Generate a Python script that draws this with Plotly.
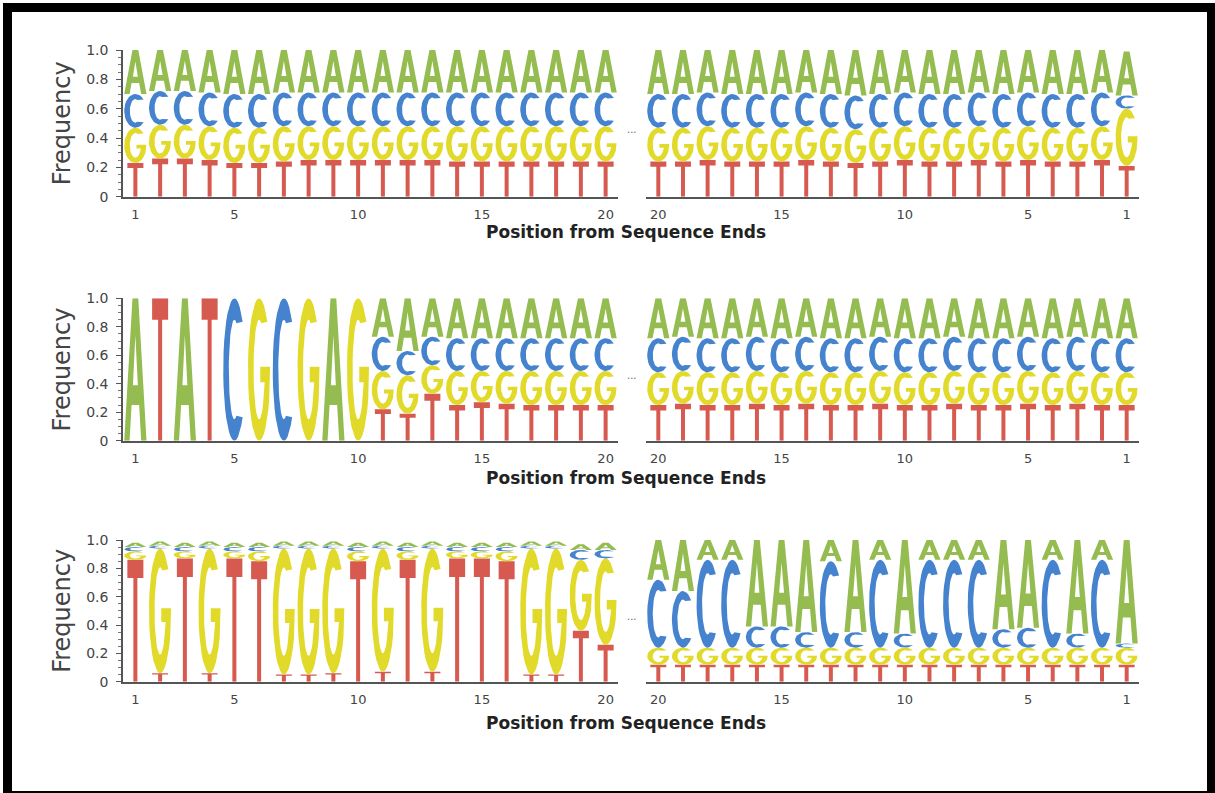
import numpy as np
import plotly.graph_objects as go

# ---------------------------------------------------------------- data
positions = list(range(1, 21))
x_tickvals = [1, 5, 10, 15, 20]
y_tickvals = [0, 0.2, 0.4, 0.6, 0.8, 1.0]
y_ticktext = ["0", "0.2", "0.4", "0.6", "0.8", "1.0"]
letters = ["T", "G", "C", "A"]          # stacking order, bottom to top

# Row 1 - left end (positions 1..20)
r1_left_T = [0.23, 0.26, 0.26, 0.25, 0.23, 0.23, 0.24, 0.25, 0.25, 0.25, 0.25, 0.25, 0.25, 0.24, 0.24, 0.24, 0.24, 0.24, 0.24, 0.24]
r1_left_G = [0.24, 0.23, 0.23, 0.23, 0.24, 0.24, 0.24, 0.23, 0.23, 0.23, 0.23, 0.23, 0.23, 0.24, 0.24, 0.24, 0.24, 0.24, 0.24, 0.24]
r1_left_C = [0.23, 0.23, 0.23, 0.23, 0.23, 0.23, 0.23, 0.23, 0.23, 0.23, 0.23, 0.23, 0.23, 0.23, 0.23, 0.23, 0.23, 0.23, 0.23, 0.23]
r1_left_A = [0.30, 0.28, 0.28, 0.29, 0.30, 0.30, 0.29, 0.29, 0.29, 0.29, 0.29, 0.29, 0.29, 0.29, 0.29, 0.29, 0.29, 0.29, 0.29, 0.29]
# Row 1 - right end (positions 1..20, position 1 is the last base)
r1_right_T = [0.21, 0.25, 0.24, 0.24, 0.25, 0.24, 0.25, 0.24, 0.24, 0.25, 0.24, 0.23, 0.24, 0.25, 0.24, 0.24, 0.24, 0.25, 0.24, 0.24]
r1_right_G = [0.39, 0.23, 0.23, 0.23, 0.23, 0.23, 0.23, 0.23, 0.23, 0.23, 0.23, 0.23, 0.23, 0.23, 0.23, 0.23, 0.23, 0.23, 0.23, 0.23]
r1_right_C = [0.09, 0.23, 0.23, 0.23, 0.23, 0.23, 0.23, 0.23, 0.23, 0.23, 0.23, 0.23, 0.23, 0.23, 0.23, 0.23, 0.23, 0.23, 0.23, 0.23]
r1_right_A = [0.30, 0.29, 0.30, 0.30, 0.29, 0.30, 0.29, 0.30, 0.30, 0.29, 0.30, 0.31, 0.30, 0.29, 0.30, 0.30, 0.30, 0.29, 0.30, 0.30]

# Row 2 - left end (barcode ATATCGCGAG followed by random sequence)
r2_left_T = [0, 1, 0, 1, 0, 0, 0, 0, 0, 0, 0.22, 0.19, 0.33, 0.25, 0.27, 0.26, 0.25, 0.25, 0.25, 0.25]
r2_left_G = [0, 0, 0, 0, 0, 1, 0, 1, 0, 1, 0.27, 0.27, 0.20, 0.24, 0.22, 0.23, 0.24, 0.24, 0.24, 0.24]
r2_left_C = [0, 0, 0, 0, 1, 0, 1, 0, 0, 0, 0.24, 0.17, 0.20, 0.23, 0.23, 0.23, 0.23, 0.23, 0.23, 0.23]
r2_left_A = [1, 0, 1, 0, 0, 0, 0, 0, 1, 0, 0.27, 0.37, 0.27, 0.28, 0.28, 0.28, 0.28, 0.28, 0.28, 0.28]
# Row 2 - right end
r2_right_T = [0.25, 0.25, 0.26, 0.25, 0.26, 0.25, 0.25, 0.26, 0.25, 0.25, 0.26, 0.25, 0.25, 0.26, 0.25, 0.26, 0.25, 0.25, 0.26, 0.25]
r2_right_G = [0.23, 0.23, 0.23, 0.23, 0.23, 0.23, 0.23, 0.23, 0.23, 0.23, 0.23, 0.23, 0.23, 0.23, 0.23, 0.23, 0.23, 0.23, 0.23, 0.23]
r2_right_C = [0.24, 0.24, 0.24, 0.24, 0.24, 0.24, 0.24, 0.24, 0.24, 0.24, 0.24, 0.24, 0.24, 0.24, 0.24, 0.24, 0.24, 0.24, 0.24, 0.24]
r2_right_A = [0.28, 0.28, 0.27, 0.28, 0.27, 0.28, 0.28, 0.27, 0.28, 0.28, 0.27, 0.28, 0.28, 0.27, 0.28, 0.27, 0.28, 0.28, 0.27, 0.28]

# Row 3 - left end (TG-rich telomeric repeat)
r3_left_T = [0.86, 0.06, 0.87, 0.06, 0.87, 0.85, 0.05, 0.05, 0.06, 0.85, 0.07, 0.86, 0.07, 0.87, 0.87, 0.85, 0.05, 0.05, 0.36, 0.26]
r3_left_G = [0.06, 0.88, 0.05, 0.88, 0.05, 0.07, 0.89, 0.89, 0.88, 0.07, 0.87, 0.06, 0.87, 0.05, 0.05, 0.07, 0.89, 0.89, 0.50, 0.61]
r3_left_C = [0.03, 0.02, 0.03, 0.02, 0.03, 0.03, 0.02, 0.02, 0.02, 0.03, 0.02, 0.03, 0.02, 0.03, 0.03, 0.03, 0.02, 0.02, 0.07, 0.06]
r3_left_A = [0.03, 0.03, 0.03, 0.03, 0.03, 0.03, 0.03, 0.03, 0.03, 0.03, 0.03, 0.03, 0.03, 0.03, 0.03, 0.03, 0.03, 0.03, 0.04, 0.05]
# Row 3 - right end (CA-rich complementary repeat), positions 1..20
r3_right_T = [0.12, 0.12, 0.12, 0.12, 0.12, 0.12, 0.12, 0.12, 0.12, 0.12, 0.12, 0.12, 0.12, 0.12, 0.12, 0.12, 0.12, 0.12, 0.12, 0.12]
r3_right_G = [0.12, 0.12, 0.12, 0.12, 0.12, 0.12, 0.12, 0.12, 0.12, 0.12, 0.12, 0.12, 0.12, 0.12, 0.12, 0.12, 0.12, 0.12, 0.12, 0.12]
r3_right_C = [0.03, 0.62, 0.10, 0.62, 0.14, 0.13, 0.62, 0.62, 0.62, 0.10, 0.62, 0.11, 0.61, 0.11, 0.15, 0.15, 0.62, 0.62, 0.40, 0.48]
r3_right_A = [0.73, 0.14, 0.66, 0.14, 0.62, 0.63, 0.14, 0.14, 0.14, 0.66, 0.14, 0.65, 0.15, 0.65, 0.61, 0.61, 0.14, 0.14, 0.36, 0.28]

colors = {"A": "#95bc50", "C": "#4683cf", "G": "#e2da2a", "T": "#d65a4f"}

# ---------------------------------------------------------------- glyph outlines (unit box)
def arc(cx, cy, rx, ry, a0, a1, n=30):
    t = np.radians(np.linspace(a0, a1, n))
    return np.column_stack([cx + rx * np.cos(t), cy + ry * np.sin(t)])


def build_glyphs():
    g = {}
    outer_a = np.array([(0.0, 0.0), (0.37, 1.0), (0.63, 1.0), (1.0, 0.0), (0.76, 0.0),
                        (0.67, 0.25), (0.33, 0.25), (0.24, 0.0)])
    inner_a = np.array([(0.39, 0.39), (0.61, 0.39), (0.5, 0.74)])
    g["A"] = [outer_a, inner_a]

    c_ring = np.vstack([arc(0.5, 0.5, 0.5, 0.5, 42, 318), arc(0.5, 0.5, 0.25, 0.35, 292, 68)])
    g["C"] = [c_ring]

    g_ring = np.vstack([
        arc(0.5, 0.5, 0.5, 0.5, 42, 335),
        np.array([(0.99, 0.52), (0.55, 0.52), (0.55, 0.41), (0.75, 0.41)]),
        arc(0.5, 0.5, 0.25, 0.35, 330, 68),
    ])
    g["G"] = [g_ring]

    t_poly = np.array([(0.41, 0.0), (0.59, 0.0), (0.59, 0.85), (0.86, 0.85), (0.86, 1.0),
                       (0.14, 1.0), (0.14, 0.85), (0.41, 0.85)])
    g["T"] = [t_poly]
    return g


GLYPHS = build_glyphs()
LETTER_W = 0.9

# ---------------------------------------------------------------- figure layout
# positions below are laid out on a 1215 x 793 grid and turned into paper fractions
W, H = 1215, 793
EDGE = 8                       # default page margin that the graph div is pulled over
DIV_W, DIV_H = W + 2 * EDGE, H + 2 * EDGE


def px(x):
    return (x + EDGE) / DIV_W


def py(y):
    return 1 - y / H


col_px = {"left": (123, 618), "right": (646, 1139)}
row_px = [(50, 196.7), (298.3, 440.7), (540, 681.7)]   # (value 1.0, value 0)

panels = [
    (0, "left", r1_left_T, r1_left_G, r1_left_C, r1_left_A),
    (0, "right", r1_right_T, r1_right_G, r1_right_C, r1_right_A),
    (1, "left", r2_left_T, r2_left_G, r2_left_C, r2_left_A),
    (1, "right", r2_right_T, r2_right_G, r2_right_C, r2_right_A),
    (2, "left", r3_left_T, r3_left_G, r3_left_C, r3_left_A),
    (2, "right", r3_right_T, r3_right_G, r3_right_C, r3_right_A),
]

fig = go.Figure()
# figure size comes from the container div (see write_html below)
layout = dict(
    margin=dict(l=0, r=0, t=0, b=0, pad=0),
    paper_bgcolor="white", plot_bgcolor="white",
    showlegend=False,
    font=dict(family="DejaVu Sans", color="#444"),
)

for k, (row, side, T, G, C, A) in enumerate(panels):
    n = k + 1
    xa, ya = ("x", "y") if n == 1 else (f"x{n}", f"y{n}")
    freqs = {"T": T, "G": G, "C": C, "A": A}
    # the right-hand axis runs backwards, so glyphs are mirrored in data space
    flip = -1 if side == "right" else 1

    xs = {L: [] for L in letters}
    ys = {L: [] for L in letters}
    for i, p in enumerate(positions):
        base = 0.0
        for L in letters:
            h = freqs[L][i]
            if h > 0:
                for ring in GLYPHS[L]:
                    closed = np.vstack([ring, ring[:1]])
                    xs[L] += list(p + flip * LETTER_W * (closed[:, 0] - 0.5)) + [None]
                    ys[L] += list(base + h * closed[:, 1]) + [None]
            base += h
    for L in letters:
        fig.add_trace(go.Scatter(
            x=xs[L], y=ys[L], xaxis=xa, yaxis=ya, mode="lines",
            fill="toself", fillcolor=colors[L],
            line=dict(width=0, color=colors[L]),
            hoverinfo="skip", connectgaps=False,
        ))

    x0, x1 = col_px[side]
    ytop, ybot = row_px[row]
    xkey = "xaxis" if n == 1 else f"xaxis{n}"
    ykey = "yaxis" if n == 1 else f"yaxis{n}"
    layout[xkey] = dict(
        domain=[px(x0), px(x1)], anchor=ya,
        range=[0.5, 20.5] if side == "left" else [20.5, 0.5],
        tickvals=x_tickvals, ticks="", showgrid=False, zeroline=False,
        showline=True, linecolor="#555", linewidth=1.5,
        tickfont=dict(size=13, color="#444", family="DejaVu Sans"),
        ticklabelstandoff=5, fixedrange=True,
    )
    ydict = dict(
        domain=[py(ybot), py(ytop)], anchor=xa, range=[0, 1.0],
        showgrid=False, zeroline=False, fixedrange=True,
    )
    if side == "left":
        ydict.update(
            showline=True, linecolor="#555", linewidth=1.5,
            ticks="outside", ticklen=5, tickcolor="#555", tickwidth=1,
            tickvals=y_tickvals, ticktext=y_ticktext,
            tickfont=dict(size=14, color="#444", family="DejaVu Sans"),
            ticklabelstandoff=5,
            minor=dict(ticks="outside", ticklen=3, tickcolor="#777", dtick=0.05, showgrid=False),
        )
    else:
        ydict.update(visible=False)
    layout[ykey] = ydict

annotations = []
title_y = [232, 478, 723]
for row in range(3):
    ytop, ybot = row_px[row]
    annotations.append(dict(
        text="Frequency", textangle=-90, xref="paper", yref="paper",
        x=px(62), y=py((ytop + ybot) / 2), xanchor="center", yanchor="middle",
        showarrow=False, font=dict(size=24, color="#444", family="DejaVu Sans"),
    ))
    annotations.append(dict(
        text="<b>Position from Sequence Ends</b>", xref="paper", yref="paper",
        x=px(626), y=py(title_y[row]), xanchor="center", yanchor="middle",
        showarrow=False, font=dict(size=17, color="#222", family="DejaVu Sans"),
    ))
    annotations.append(dict(
        text="...", xref="paper", yref="paper",
        x=px(632), y=py(ybot - 0.46 * (ybot - ytop)), xanchor="center", yanchor="middle",
        showarrow=False, font=dict(size=10, color="#666", family="DejaVu Sans"),
    ))
layout["annotations"] = annotations

# black frame around the figure
frame = "#000"
layout["shapes"] = [
    dict(type="rect", xref="paper", yref="paper", x0=px(3), x1=px(12), y0=0, y1=py(3), fillcolor=frame, line=dict(width=0)),
    dict(type="rect", xref="paper", yref="paper", x0=px(3), x1=px(1215), y0=py(12), y1=py(3), fillcolor=frame, line=dict(width=0)),
    dict(type="rect", xref="paper", yref="paper", x0=px(1207), x1=1, y0=0, y1=py(3), fillcolor=frame, line=dict(width=0)),
    dict(type="rect", xref="paper", yref="paper", x0=px(3), x1=px(1215), y0=0, y1=py(791), fillcolor=frame, line=dict(width=0)),
]

fig.update_layout(**layout)
# the graph div covers the whole page and offsets the default body margin
fig.write_html("out.html", default_width=f"{DIV_W}px", default_height=f"{DIV_H}px; margin:-8px")
